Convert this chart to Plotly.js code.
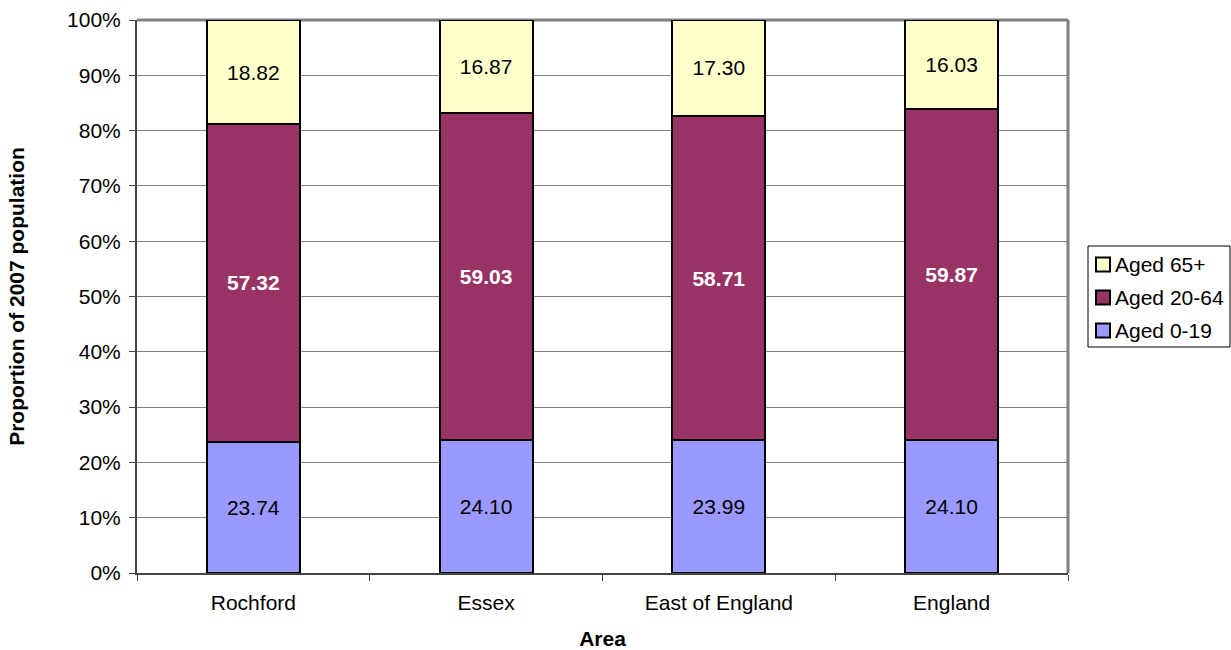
<!DOCTYPE html>
<html>
<head>
<meta charset="utf-8">
<script src="https://cdn.plot.ly/plotly-3.0.1.min.js"></script>
<style>
  html, body { margin: 0; padding: 0; background: #ffffff; }
  #chart { width: 1231px; height: 650px; }
</style>
</head>
<body>
<div id="chart"></div>
<script>
// Population by age band, 2007 (percent of total)
const areas = ['Rochford', 'Essex', 'East of England', 'England'];
const aged0to19 = [23.74, 24.10, 23.99, 24.10];
const aged20to64 = [57.32, 59.03, 58.71, 59.87];
const aged65plus = [18.82, 16.87, 17.30, 16.03];
const yTickVals = [0, 10, 20, 30, 40, 50, 60, 70, 80, 90, 100];

const FONT = 'Liberation Sans, Arial, sans-serif';
const SIZE = 21;
const W = 1231, H = 650;
const M = { l: 137, r: 163, t: 20, b: 77 };

function band(name, values, fill, textColor, bold) {
  return {
    type: 'bar',
    name: name,
    x: areas,
    y: values,
    text: values.map(v => v.toFixed(2)),
    texttemplate: bold ? '<b>%{text}</b>' : '%{text}',
    textposition: 'inside',
    insidetextanchor: 'middle',
    textangle: 0,
    constraintext: 'none',
    textfont: { family: FONT, size: SIZE, color: textColor },
    marker: { color: fill, line: { color: '#000000', width: 2 } },
    hoverinfo: 'skip'
  };
}

const traces = [
  band('Aged 0-19', aged0to19, '#9999FF', '#000000', false),
  band('Aged 20-64', aged20to64, '#993366', '#FFFFFF', true),
  band('Aged 65+', aged65plus, '#FFFFCC', '#000000', false)
];

// Pixel position -> paper coordinates of the plotting area
const plotW = W - M.l - M.r, plotH = H - M.t - M.b;
const px = x => (x - M.l) / plotW;
const py = y => (H - M.b - y) / plotH;

// Boxed key on the right, listing the bands top-down (65+ first)
const keyShapes = [
  { type: 'rect', xref: 'paper', yref: 'paper',
    x0: px(1088), x1: px(1230), y0: py(347), y1: py(246),
    fillcolor: '#ffffff', line: { color: '#000000', width: 1 } }
];
const keyLabels = [];
traces.slice().reverse().forEach((t, i) => {
  const cy = 264.5 + i * 33;
  keyShapes.push({ type: 'rect', xref: 'paper', yref: 'paper',
    x0: px(1096), x1: px(1110), y0: py(cy + 7), y1: py(cy - 7),
    fillcolor: t.marker.color, line: { color: '#000000', width: 2 } });
  keyLabels.push({ xref: 'paper', yref: 'paper', x: px(1113), y: py(cy),
    xanchor: 'left', yanchor: 'middle', showarrow: false, text: t.name,
    font: { family: FONT, size: SIZE, color: '#000000' } });
});

const layout = {
  width: W,
  height: H,
  paper_bgcolor: '#ffffff',
  plot_bgcolor: '#ffffff',
  margin: { l: M.l, r: M.r, t: M.t, b: M.b, autoexpand: false },
  barmode: 'stack',
  barnorm: 'percent',
  bargap: 0.6,
  showlegend: false,
  font: { family: FONT, size: SIZE, color: '#000000' },
  xaxis: {
    type: 'category',
    tickson: 'boundaries',
    ticks: 'outside',
    ticklen: 6,
    tickwidth: 1,
    tickcolor: '#444444',
    ticklabelstandoff: 10,
    showline: true,
    linecolor: '#444444',
    linewidth: 2,
    showgrid: false,
    tickfont: { family: FONT, size: SIZE, color: '#000000' },
    title: { text: '<b>Area</b>', font: { family: FONT, size: SIZE, color: '#000000' }, standoff: 22 }
  },
  yaxis: {
    range: [0, 100],
    tickvals: yTickVals,
    ticktext: yTickVals.map(v => v + '%'),
    ticks: 'outside',
    ticklen: 6,
    tickwidth: 1,
    tickcolor: '#444444',
    ticklabelstandoff: 4,
    showline: true,
    linecolor: '#444444',
    linewidth: 2,
    showgrid: true,
    gridcolor: '#808080',
    gridwidth: 1,
    zeroline: false,
    tickfont: { family: FONT, size: SIZE, color: '#000000' },
    title: { text: '<b>Proportion of 2007 population</b>', font: { family: FONT, size: SIZE, color: '#000000' }, standoff: 37 }
  },
  shapes: [
    { type: 'line', xref: 'paper', yref: 'paper', x0: 0, x1: 1, y0: 1, y1: 1,
      line: { color: '#808080', width: 3 }, layer: 'below' },
    { type: 'line', xref: 'paper', yref: 'paper', x0: 1, x1: 1, y0: 0, y1: 1,
      line: { color: '#808080', width: 3 }, layer: 'below' }
  ].concat(keyShapes),
  annotations: keyLabels
};

Plotly.newPlot('chart', traces, layout, { displayModeBar: false, staticPlot: true });
</script>
</body>
</html>
